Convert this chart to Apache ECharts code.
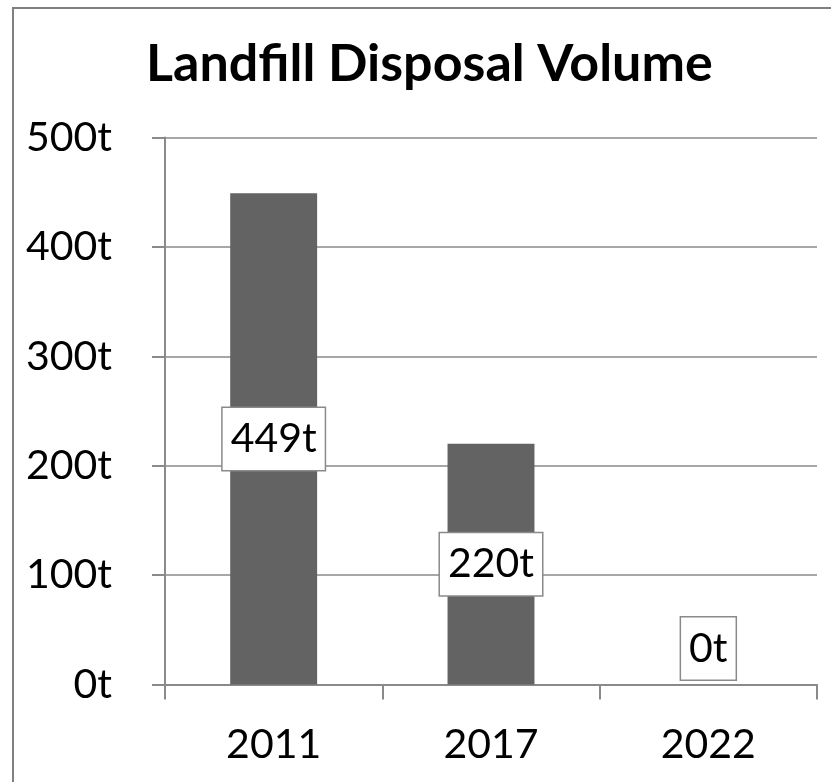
<!DOCTYPE html>
<html>
<head>
<meta charset="utf-8">
<script src="https://cdn.jsdelivr.net/npm/echarts@6/dist/echarts.min.js"></script>
<style>html,body{margin:0;padding:0;background:#fff}#c{width:831px;height:782px}</style>
</head>
<body>
<div id="c"></div>
<script>
const categories = ['2011', '2017', '2022'];
const values = [449, 220, 0];
const yTicks = [0, 100, 200, 300, 400, 500];
const titleText = 'Landfill Disposal Volume';
const unit = 't';

const FONT = 'Lato';
const chart = echarts.init(document.getElementById('c'), null, {renderer: 'canvas'});
const labelBox = {
  show: true,
  formatter: p => p.value + unit,
  color: '#000',
  fontFamily: FONT,
  fontSize: 41,
  lineHeight: 44,
  backgroundColor: '#fff',
  borderColor: '#8a8a8a',
  borderWidth: 1.5,
  padding: [9, 8, 9, 8]
};
chart.setOption({
  animation: false,
  title: {
    text: titleText,
    left: 146,
    top: 38,
    padding: 0,
    textStyle: {fontFamily: FONT, fontWeight: 'bold', fontSize: 52, color: '#000'}
  },
  graphic: [{
    type: 'rect',
    shape: {x: 13, y: 8, width: 1000, height: 1000},
    style: {fill: 'none', stroke: '#808080', lineWidth: 2},
    silent: true
  }],
  grid: {left: 165, right: 14, top: 137.5, bottom: 97.5, containLabel: false},
  xAxis: {
    type: 'category',
    data: categories,
    axisLine: {lineStyle: {color: '#8a8a8a', width: 2}},
    axisTick: {show: true, length: 15, lineStyle: {color: '#8a8a8a', width: 2}},
    axisLabel: {fontFamily: FONT, fontSize: 41, color: '#000', margin: 40}
  },
  yAxis: {
    type: 'value',
    min: yTicks[0],
    max: yTicks[yTicks.length - 1],
    interval: yTicks[1] - yTicks[0],
    axisLine: {show: true, lineStyle: {color: '#8a8a8a', width: 2}},
    axisTick: {show: true, length: 13, lineStyle: {color: '#8a8a8a', width: 2}},
    axisLabel: {fontFamily: FONT, fontSize: 41, color: '#000', margin: 53, formatter: v => v + unit},
    splitLine: {show: true, lineStyle: {color: '#8a8a8a', width: 1.5}}
  },
  series: [{
    type: 'bar',
    barWidth: '40%',
    itemStyle: {color: '#636363'},
    data: values.map(v => ({
      value: v,
      label: Object.assign({}, labelBox, v === 0 ? {position: 'top', distance: 5} : {position: 'inside'})
    }))
  }]
});
</script>
</body>
</html>
